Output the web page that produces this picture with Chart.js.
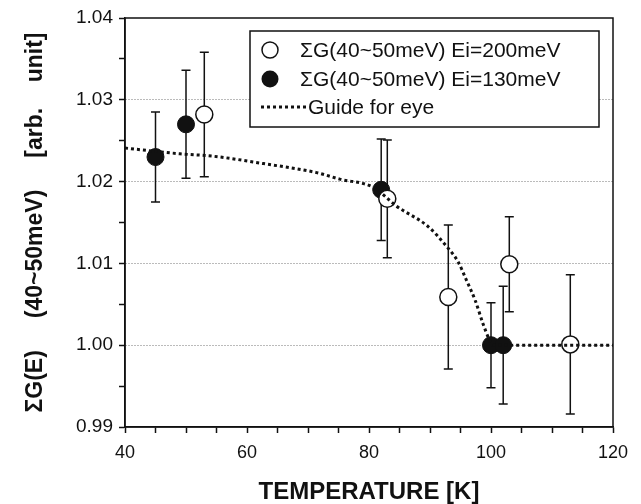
<!DOCTYPE html>
<html lang="en">
<head>
<meta charset="UTF-8">
<title>Sum G(E) vs temperature</title>
<script src="https://cdn.jsdelivr.net/npm/chart.js"></script>
<style>
  body { margin: 0; background: #fff; }
  canvas { display: block; }
</style>
</head>
<body>
<canvas id="grafico" width="641" height="504"></canvas>
<script>
// values
const temps200 = [53, 83, 93, 103, 113];
const vals200  = [1.0282, 1.0179, 1.0059, 1.0099, 1.0001];
const errs200  = [0.0076, 0.0072, 0.0088, 0.0058, 0.0085];

const temps130 = [45, 50, 82, 100, 102];
const vals130  = [1.0230, 1.0270, 1.0190, 1.0000, 1.0000];
const errs130  = [0.0055, 0.0066, 0.0062, 0.0052, 0.0072];

// dotted "guide for eye"
const guideT = [40, 49, 54.5, 62.7, 71.4, 75.2, 80.7, 84.5, 89.7, 92.7, 94.6, 96.0, 97.4, 98.7, 99.6, 100.3, 110, 120];
const guideV = [1.0241, 1.0234, 1.0231, 1.0222, 1.0211, 1.0203, 1.0193, 1.0170, 1.0145, 1.0121, 1.0102, 1.0079, 1.0055, 1.0026, 1.0009, 1.0000, 1.0000, 1.0000];

const legendLabels = ['\u03A3G(40~50meV) Ei=200meV', '\u03A3G(40~50meV) Ei=130meV', 'Guide for eye'];
const xTitle = 'TEMPERATURE [K]';
const yTitle = '\u03A3G(E)     (40~50meV)     [arb.    unit]';

const ink = '#111';
Chart.defaults.font.family = '"Liberation Sans", Arial, sans-serif';
Chart.defaults.color = ink;

function pontos(xs, ys) {
  return xs.map((x, i) => ({ x: x, y: ys[i] }));
}

// error bars, frame and legend box
const extras = {
  id: 'extras',
  beforeDatasetsDraw(chart) {
    const ctx = chart.ctx;
    const sx = chart.scales.x, sy = chart.scales.y;
    ctx.save();
    ctx.strokeStyle = ink;
    ctx.lineWidth = 1.5;
    const series = [[temps200, vals200, errs200], [temps130, vals130, errs130]];
    series.forEach(s => {
      for (let i = 0; i < s[0].length; i++) {
        const px = sx.getPixelForValue(s[0][i]);
        const top = sy.getPixelForValue(s[1][i] + s[2][i]);
        const bot = sy.getPixelForValue(s[1][i] - s[2][i]);
        ctx.beginPath();
        ctx.moveTo(px, top); ctx.lineTo(px, bot);
        ctx.moveTo(px - 4.5, top); ctx.lineTo(px + 4.5, top);
        ctx.moveTo(px - 4.5, bot); ctx.lineTo(px + 4.5, bot);
        ctx.stroke();
      }
    });
    ctx.restore();
  },
  afterDraw(chart) {
    const ctx = chart.ctx;
    const a = chart.chartArea;
    ctx.save();
    ctx.strokeStyle = ink;
    ctx.lineWidth = 1.5;
    ctx.strokeRect(a.left, a.top, a.right - a.left, a.bottom - a.top);

    // legend
    const lx = 250, ly = 31, lw = 349, lh = 96;
    ctx.fillStyle = '#fff';
    ctx.fillRect(lx, ly, lw, lh);
    ctx.strokeRect(lx, ly, lw, lh);
    const rows = [50, 79, 107];
    ctx.beginPath();
    ctx.arc(270, rows[0], 8, 0, Math.PI * 2);
    ctx.fillStyle = '#fff'; ctx.fill(); ctx.stroke();
    ctx.beginPath();
    ctx.arc(270, rows[1], 8.5, 0, Math.PI * 2);
    ctx.fillStyle = ink; ctx.fill();
    ctx.beginPath();
    ctx.setLineDash([3, 3]);
    ctx.lineWidth = 3;
    ctx.moveTo(261, rows[2]); ctx.lineTo(306, rows[2]);
    ctx.stroke();
    ctx.setLineDash([]);
    ctx.fillStyle = ink;
    ctx.font = '21px "Liberation Sans", Arial, sans-serif';
    ctx.textBaseline = 'middle';
    ctx.fillText(legendLabels[0], 300, rows[0] + 1);
    ctx.fillText(legendLabels[1], 300, rows[1] + 1);
    ctx.fillText(legendLabels[2], 308, rows[2] + 1);
    ctx.restore();
  }
};

new Chart(document.getElementById('grafico'), {
  type: 'scatter',
  data: {
    datasets: [
      {
        label: legendLabels[2],
        type: 'line',
        data: pontos(guideT, guideV),
        borderColor: ink,
        borderWidth: 3,
        borderDash: [3, 3],
        pointRadius: 0,
        fill: false,
        cubicInterpolationMode: 'monotone',
        order: 0
      },
      {
        label: legendLabels[0],
        data: pontos(temps200, vals200),
        pointRadius: 8.5,
        pointBackgroundColor: '#fff',
        pointBorderColor: ink,
        pointBorderWidth: 1.5,
        order: 1
      },
      {
        label: legendLabels[1],
        data: pontos(temps130, vals130),
        pointRadius: 8.5,
        pointBackgroundColor: ink,
        pointBorderColor: ink,
        pointBorderWidth: 1,
        order: 2
      }
    ]
  },
  options: {
    responsive: false,
    animation: false,
    layout: { padding: { top: 18, right: 28, left: 0, bottom: 0 } },
    plugins: { legend: { display: false }, tooltip: { enabled: false } },
    scales: {
      x: {
        type: 'linear',
        min: 40, max: 120,
        afterFit(scale) { scale.height = 77; },
        ticks: {
          stepSize: 5,
          autoSkip: false,
          maxRotation: 0,
          padding: 9,
          font: { size: 18 },
          callback: v => (v % 20 === 0 ? String(v) : '')
        },
        grid: { drawOnChartArea: false, tickColor: ink, tickLength: 6, tickWidth: 1.5 },
        border: { color: ink, width: 1.5 },
        title: {
          display: true,
          text: xTitle,
          font: { size: 24, weight: 'bold', lineHeight: 1 },
          padding: { top: 0, bottom: 0 }
        }
      },
      y: {
        min: 0.99, max: 1.04,
        afterFit(scale) { scale.width = 125; },
        ticks: {
          stepSize: 0.005,
          autoSkip: false,
          padding: 6,
          font: { size: 19 },
          callback: v => (Math.round(v * 1000) % 10 === 0 ? v.toFixed(2) : '')
        },
        grid: {
          color: c => {
            const r = Math.round(c.tick.value * 1000);
            return (r % 10 === 0 && r > 990 && r < 1040) ? '#777' : 'rgba(0,0,0,0)';
          },
          lineWidth: 1,
          tickColor: ink,
          tickLength: 6,
          tickWidth: 1.5
        },
        border: { color: ink, width: 1.5, dash: [1, 2] },
        title: {
          display: true,
          text: yTitle,
          font: { size: 23, weight: 'bold', lineHeight: 1 },
          padding: { top: 24, bottom: 0 }
        }
      }
    }
  },
  plugins: [extras]
});
</script>
</body>
</html>
